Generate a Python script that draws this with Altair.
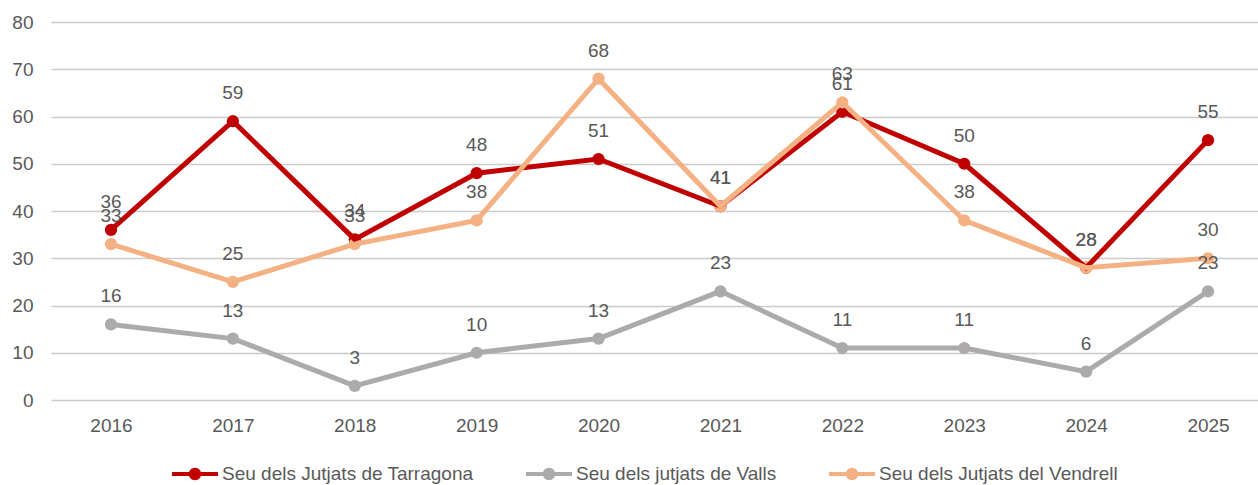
import altair as alt
import pandas as pd

years = [2016, 2017, 2018, 2019, 2020, 2021, 2022, 2023, 2024, 2025]
series_names = [
    "Seu dels Jutjats de Tarragona",
    "Seu dels jutjats de Valls",
    "Seu dels Jutjats del Vendrell",
]
tarragona = [36, 59, 34, 48, 51, 41, 61, 50, 28, 55]
valls = [16, 13, 3, 10, 13, 23, 11, 11, 6, 23]
vendrell = [33, 25, 33, 38, 68, 41, 63, 38, 28, 30]
colors = ["#C00000", "#ADAAAA", "#F4B183"]

rows = []
for name, vals in zip(series_names, [tarragona, valls, vendrell]):
    for y, v in zip(years, vals):
        rows.append({"Sèrie": name, "Any": y, "Valor": v})
df = pd.DataFrame(rows)

FONT = "Liberation Sans"
TXT = "#595959"

sym_path = ("M-1,-0.09 L1,-0.09 L1,0.09 L-1,0.09 Z "
            "M-0.27,0 A0.27,0.27 0 1,1 0.27,0 A0.27,0.27 0 1,1 -0.27,0 Z")

x = alt.X("Any:Q",
          scale=alt.Scale(domain=[2015.508, 2025.41], nice=False, zero=False),
          axis=alt.Axis(values=years, format="d", title=None, grid=False,
                        domain=False, ticks=False, tickSize=0, labelPadding=16,
                        labelFontSize=19, labelColor=TXT, labelFont=FONT))
y = alt.Y("Valor:Q",
          scale=alt.Scale(domain=[0, 80], nice=False),
          axis=alt.Axis(values=list(range(0, 81, 10)), title=None, grid=True,
                        domain=False, ticks=False, tickSize=0, labelPadding=18,
                        labelFontSize=19, labelColor=TXT, labelFont=FONT,
                        gridColor="#CCCCCC", gridWidth=1.5))
color = alt.Color("Sèrie:N",
                  scale=alt.Scale(domain=series_names, range=colors),
                  legend=alt.Legend(title=None, orient="none", direction="horizontal",
                                    legendX=121, legendY=429,
                                    symbolType=sym_path, symbolSize=2116,
                                    symbolStrokeWidth=0, labelOffset=4,
                                    columnPadding=52, labelFontSize=19,
                                    labelLimit=500,
                                    labelColor=TXT, labelFont=FONT))

base = alt.Chart(df)
lines = base.mark_line(strokeWidth=5).encode(x=x, y=y, color=color)
points = base.mark_point(filled=True, size=150, opacity=1).encode(x=x, y=y, color=color)
labels = base.mark_text(dy=-28, baseline="middle", align="center",
                        fontSize=19, font=FONT, color=TXT).encode(
    x=x, y=y, text="Valor:Q")

chart = alt.layer(points, lines, labels).properties(
    width=1207, height=378,
    autosize=alt.AutoSizeParams(type="none"),
    padding={"left": 51, "top": 22, "right": 0, "bottom": 85},
    background="white",
).configure_view(stroke=None)

chart.save("out.html", embed_options={"renderer": "svg", "actions": False})
